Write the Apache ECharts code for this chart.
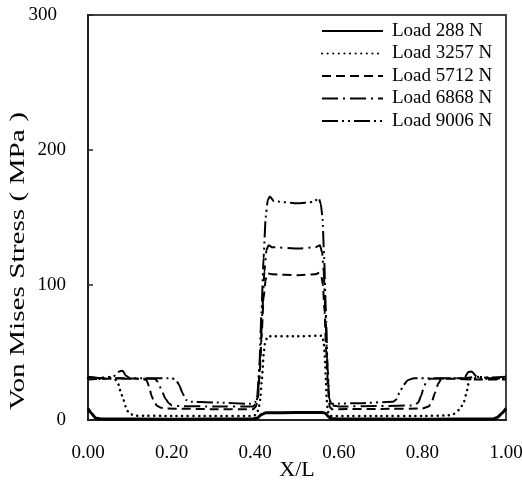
<!DOCTYPE html>
<html>
<head>
<meta charset="utf-8">
<script src="https://cdn.jsdelivr.net/npm/echarts@6/dist/echarts.min.js"></script>
<style>html,body{margin:0;padding:0;background:#fff;}#c{width:522px;height:482px;}</style>
</head>
<body>
<div id="c"></div>
<script>
var seriesNames = ['Load 288 N', 'Load 3257 N', 'Load 5712 N', 'Load 6868 N', 'Load 9006 N'];
var xTicks = [0, 0.2, 0.4, 0.6, 0.8, 1.0];
var yTicks = [0, 100, 200, 300];

var load288 = [[0,8.5],[0.008,5],[0.018,1.5],[0.03,0.8],[0.2,0.6],[0.395,0.8],[0.405,1.5],[0.415,4],[0.425,5.3],[0.5,5.5],[0.56,5.5],[0.568,5],[0.575,2.5],[0.582,1],[0.6,0.7],[0.8,0.6],[0.97,0.8],[0.98,2],[0.99,5],[1,8.5]];
var load3257 = [[0,31],[0.03,30.5],[0.05,31],[0.065,30],[0.072,27],[0.078,21],[0.085,15],[0.09,10],[0.096,6],[0.105,4],[0.115,3.2],[0.2,3],[0.3,3],[0.395,3],[0.403,4],[0.408,8],[0.412,15],[0.416,30],[0.42,48],[0.424,58],[0.43,62],[0.5,62],[0.56,62.5],[0.564,58],[0.567,45],[0.569,30],[0.571,15],[0.574,6],[0.578,3],[0.6,3],[0.7,3],[0.8,3],[0.86,3.3],[0.875,4.5],[0.89,8],[0.9,14],[0.906,21],[0.911,28],[0.916,31],[0.93,31],[0.96,30.5],[1,30.5]];
var load5712 = [[0,30],[0.04,30.5],[0.08,31],[0.13,30.5],[0.14,29.5],[0.146,25],[0.152,18],[0.158,13.5],[0.165,10.5],[0.175,9],[0.19,8.5],[0.3,8],[0.395,8],[0.402,10],[0.406,15],[0.41,30],[0.415,60],[0.42,90],[0.425,104],[0.43,108.5],[0.44,108],[0.5,107.2],[0.545,108],[0.553,109],[0.558,107],[0.562,100],[0.566,80],[0.57,50],[0.574,25],[0.578,10],[0.583,8],[0.7,8.2],[0.8,8.5],[0.815,10],[0.822,13],[0.83,20],[0.838,27],[0.845,30.5],[0.88,30.5],[0.92,30],[1,30]];
var load6868 = [[0,32],[0.03,31],[0.045,32.5],[0.06,31],[0.1,30.5],[0.16,30.5],[0.168,28],[0.176,22],[0.185,16],[0.193,12.5],[0.2,11],[0.22,10.3],[0.3,10],[0.395,10],[0.402,12],[0.407,20],[0.412,45],[0.417,80],[0.422,110],[0.427,126],[0.432,129.5],[0.44,128],[0.5,127],[0.545,128],[0.555,129.5],[0.56,124],[0.564,110],[0.568,80],[0.572,45],[0.576,20],[0.58,11],[0.6,10],[0.7,10.3],[0.78,10.8],[0.79,13],[0.797,18],[0.803,24],[0.81,29],[0.818,30.5],[0.9,31],[0.93,32],[0.96,31],[1,31]];
var load9006 = [[0,31.5],[0.03,31],[0.06,32],[0.075,36],[0.083,36.5],[0.09,33],[0.1,31],[0.2,31],[0.21,30],[0.218,26],[0.226,20],[0.234,15],[0.242,13.5],[0.3,13],[0.39,12],[0.4,13],[0.405,18],[0.41,40],[0.415,80],[0.42,120],[0.425,150],[0.43,163],[0.435,165.5],[0.445,162],[0.5,160.5],[0.54,161.5],[0.552,164.5],[0.557,160],[0.561,150],[0.565,120],[0.569,80],[0.573,40],[0.577,16],[0.582,12],[0.65,12.5],[0.73,13.5],[0.737,15],[0.745,20],[0.755,26],[0.765,29.5],[0.78,31],[0.9,31],[0.91,35.5],[0.918,36],[0.93,32],[0.96,31.5],[1,32]];

var FONT = 'Liberation Serif';
var dataSets = [load288, load3257, load5712, load6868, load9006];
var styles = [
  {width: 3, type: 'solid', cap: 'butt'},
  {width: 2.5, type: [0.1, 5.5], cap: 'round'},
  {width: 2, type: [9, 5], cap: 'butt'},
  {width: 2, type: [16, 5, 2, 5], cap: 'butt'},
  {width: 2, type: [16, 4, 2, 4, 2, 4], cap: 'butt'}
];

var series = seriesNames.map(function (n, i) {
  return {
    name: n,
    type: 'line',
    data: dataSets[i],
    symbol: 'none',
    showSymbol: false,
    smooth: 0.15,
    smoothMonotone: 'x',
    lineStyle: {color: '#000', width: styles[i].width, type: styles[i].type, cap: styles[i].cap},
    itemStyle: {color: '#000'}
  };
});

var chart = echarts.init(document.getElementById('c'));
chart.setOption({
  animation: false,
  backgroundColor: '#fff',
  grid: {left: 88, right: 16, top: 15, bottom: 62, show: true, borderColor: '#444', borderWidth: 2,
    containLabel: false, outerBoundsMode: 'none'},
  legend: {
    orient: 'vertical', left: 321, top: 21, padding: 0,
    itemWidth: 61, itemHeight: 14, itemGap: 2.5,
    data: seriesNames,
    lineStyle: {color: '#000'},
    itemStyle: {color: 'rgba(0,0,0,0)', borderWidth: 0, opacity: 0},
    textStyle: {fontFamily: FONT, fontSize: 19, color: '#000', lineHeight: 20, padding: [0, 0, 0, 4]}
  },
  xAxis: {
    type: 'value', min: xTicks[0], max: xTicks[xTicks.length - 1], interval: 0.2,
    name: 'X/L', nameLocation: 'middle', nameGap: 39, nameMoveOverlap: false,
    nameTextStyle: {fontFamily: FONT, fontSize: 22, color: '#000'},
    axisLine: {show: true, lineStyle: {color: '#222', width: 2}},
    axisTick: {show: false},
    splitLine: {show: false},
    axisLabel: {fontFamily: FONT, fontSize: 19, color: '#000', margin: 24,
      formatter: function (v) { return v.toFixed(2); }}
  },
  yAxis: {
    type: 'value', min: yTicks[0], max: yTicks[yTicks.length - 1], interval: 100,
    axisLine: {show: true, lineStyle: {color: '#222', width: 2}},
    axisTick: {show: true, inside: true, length: 5, lineStyle: {color: '#222', width: 1.5}},
    splitLine: {show: false},
    axisLabel: {fontFamily: FONT, fontSize: 19, color: '#000', margin: 22,
      formatter: function (v) { return v === 300 ? '{s|300}' : String(v); },
      rich: {s: {fontFamily: FONT, fontSize: 19, color: '#000', padding: [0, 9, 0, 0]}}}
  },
  graphic: [{
    type: 'text', x: 18, y: 261, rotation: Math.PI / 2, scaleX: 1.33,
    style: {text: 'Von Mises Stress ( MPa )', font: '22px "' + FONT + '"', fill: '#000', align: 'center', verticalAlign: 'middle'}
  }],
  series: series
});
</script>
</body>
</html>
